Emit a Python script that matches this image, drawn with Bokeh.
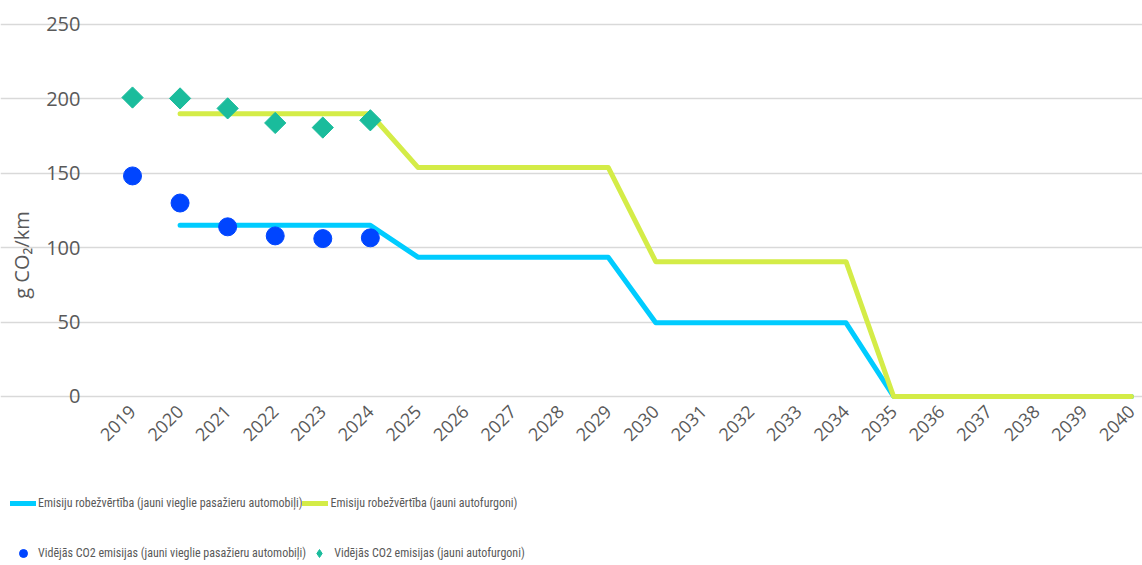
import math
from bokeh.plotting import figure
from bokeh.models import Range1d, FixedTicker, Legend, LegendItem
from bokeh.embed import file_html
from bokeh.resources import INLINE

years = list(range(2019, 2041))

limit_years = list(range(2020, 2041))
cars_limit = [115, 115, 115, 115, 115, 93.6, 93.6, 93.6, 93.6, 93.6,
              49.5, 49.5, 49.5, 49.5, 49.5, 0, 0, 0, 0, 0, 0]
vans_limit = [190, 190, 190, 190, 190, 153.9, 153.9, 153.9, 153.9, 153.9,
              90.6, 90.6, 90.6, 90.6, 90.6, 0, 0, 0, 0, 0, 0]

avg_years = [2019, 2020, 2021, 2022, 2023, 2024]
cars_avg = [148.2, 130.0, 114.0, 107.9, 106.1, 106.6]
vans_avg = [200.9, 200.3, 193.6, 183.8, 180.7, 185.6]

y_ticks = [0, 50, 100, 150, 200, 250]

labels = [
    "Emisiju robežvērtība (jauni vieglie pasažieru automobiļi)",
    "Emisiju robežvērtība (jauni autofurgoni)",
    "Vidējās CO2 emisijas (jauni vieglie pasažieru automobiļi)",
    "Vidējās CO2 emisijas (jauni autofurgoni)",
]

C_CARS_LINE = "#00CCFF"
C_VANS_LINE = "#D4EC47"
C_CARS_DOT = "#0045FF"
C_VANS_DOT = "#1ABC9C"
TXT = "#595959"
LEGEND_FONT = "Roboto Condensed"

# frame covers the whole canvas; axes are pinned inside it
X0, X1 = 2016.225, 2040.232
Y0, Y1 = -113.6, 266.1
PLOT_LEFT = 2018.495

p = figure(width=1142, height=565, output_backend="svg", toolbar_location=None,
           x_range=Range1d(X0, X1), y_range=Range1d(Y0, Y1),
           min_border_left=0, min_border_right=0, min_border_top=0,
           min_border_bottom=0)
p.outline_line_color = None
p.background_fill_color = "white"
p.border_fill_color = "white"

p.xgrid.grid_line_color = None
p.ygrid.grid_line_color = "#D9D9D9"
p.ygrid.grid_line_width = 1.5
p.ygrid.ticker = FixedTicker(ticks=y_ticks)
p.ygrid.bounds = (PLOT_LEFT, X1)

p.xaxis.ticker = FixedTicker(ticks=years)
p.yaxis.ticker = FixedTicker(ticks=y_ticks)
p.xaxis.fixed_location = 0
p.yaxis.fixed_location = PLOT_LEFT
p.yaxis.bounds = (-60, 250)
for ax in (p.xaxis[0], p.yaxis[0]):
    ax.axis_line_color = None
    ax.major_tick_line_color = None
    ax.minor_tick_line_color = None
    ax.major_label_text_color = TXT
    ax.major_label_text_font = "Open Sans"
p.xaxis.major_label_orientation = math.pi / 4
p.xaxis.major_label_text_font_size = "18px"
p.xaxis.major_label_standoff = 6
p.yaxis.major_label_text_font_size = "20px"
p.yaxis.major_label_standoff = 22
p.yaxis.axis_label = "g CO₂/km"
p.yaxis.axis_label_text_font = "Open Sans"
p.yaxis.axis_label_text_font_style = "normal"
p.yaxis.axis_label_text_font_size = "20px"
p.yaxis.axis_label_text_color = TXT
p.yaxis.axis_label_standoff = 8

r1 = p.line(limit_years, cars_limit, line_color=C_CARS_LINE, line_width=5,
            line_cap="round", line_join="round")
r2 = p.line(limit_years, vans_limit, line_color=C_VANS_LINE, line_width=5,
            line_cap="round", line_join="round")
p.scatter(avg_years, cars_avg, marker="circle", size=18, fill_color=C_CARS_DOT,
          line_color=C_CARS_DOT)
p.scatter(avg_years, vans_avg, marker="square", size=15, angle=math.pi / 4,
          fill_color=C_VANS_DOT, line_color=C_VANS_DOT)

# small legend proxies (placed outside the visible range)
r3 = p.scatter([1900], [-1000], marker="circle", size=8,
               fill_color=C_CARS_DOT, line_color=C_CARS_DOT)
r4 = p.scatter([1900], [-1000], marker="diamond", size=11,
               fill_color=C_VANS_DOT, line_color=C_VANS_DOT)


def make_legend(items, loc):
    lg = Legend(items=items, location=loc, orientation="horizontal",
                glyph_width=26, glyph_height=20, label_standoff=2, spacing=0,
                label_width=262, padding=0, margin=0,
                label_text_font=LEGEND_FONT, label_text_font_size="12px",
                label_text_color=TXT, background_fill_alpha=0,
                border_line_alpha=0)
    p.add_layout(lg)
    return lg


make_legend([LegendItem(label=labels[0], renderers=[r1]),
             LegendItem(label=labels[1], renderers=[r2])], (10, 52))
make_legend([LegendItem(label=labels[2], renderers=[r3]),
             LegendItem(label=labels[3], renderers=[r4])], (10, 2))

open("out.html", "w").write(file_html(p, INLINE))
